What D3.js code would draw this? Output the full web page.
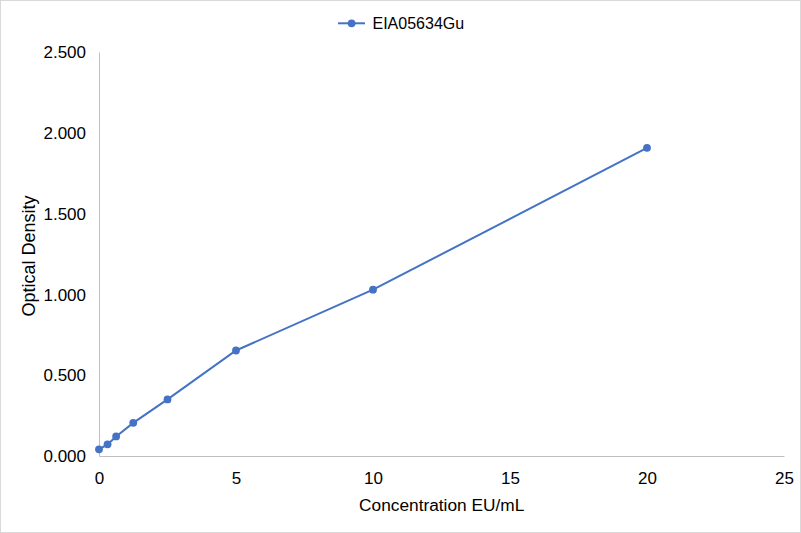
<!DOCTYPE html>
<html>
<head>
<meta charset="utf-8">
<script src="https://cdn.jsdelivr.net/npm/d3@7"></script>
<style>
  html, body { margin: 0; padding: 0; background: #fff; }
  svg { display: block; font-family: "Liberation Sans", Arial, sans-serif; }
</style>
</head>
<body>
<svg id="chart"></svg>
<script>
// Standard curve data
const seriesName = "EIA05634Gu";
const concentrations = [0, 0.3125, 0.625, 1.25, 2.5, 5, 10, 20];
const densities = [0.041, 0.072, 0.121, 0.205, 0.350, 0.653, 1.029, 1.907];
const xTicks = [0, 5, 10, 15, 20, 25];
const yTicks = [0, 0.5, 1.0, 1.5, 2.0, 2.5];

const size = { width: 801, height: 533 };
const margin = { top: 52, right: 17, bottom: 77, left: 99 };
const width = size.width - margin.left - margin.right;
const height = size.height - margin.top - margin.bottom;
const lineColor = "#4472C4";

const svg = d3.select("#chart")
  .attr("width", size.width)
  .attr("height", size.height);

// outer frame
svg.append("rect")
  .attr("x", 0.5).attr("y", 0.5)
  .attr("width", size.width - 1).attr("height", size.height - 1)
  .attr("fill", "white")
  .attr("stroke", "#d9d9d9");

const g = svg.append("g")
  .attr("transform", `translate(${ margin.left }, ${ margin.top })`);

const xScale = d3.scaleLinear().domain([0, 25]).range([0, width]);
const yScale = d3.scaleLinear().domain([0, 2.5]).range([height, 0]);

// Axes
const xAxis = d3.axisBottom(xScale).tickValues(xTicks).tickSize(0).tickFormat(d3.format("d"));
const yAxis = d3.axisLeft(yScale).tickValues(yTicks).tickSize(0).tickPadding(13).tickFormat(d3.format(".3f"));

const gx = g.append("g")
  .attr("transform", `translate(0, ${ height })`)
  .call(xAxis);
gx.select(".domain").attr("stroke", "#bfbfbf").attr("stroke-width", 1);
gx.selectAll("text")
  .attr("y", 28)
  .attr("dy", null)
  .attr("font-size", "17px")
  .attr("fill", "#000")
  .attr("font-family", "Liberation Sans, Arial, sans-serif");

const gy = g.append("g").call(yAxis);
gy.select(".domain").attr("stroke", "#bfbfbf").attr("stroke-width", 1);
gy.selectAll("text")
  .attr("dy", "0.34em")
  .attr("font-size", "17px")
  .attr("fill", "#000")
  .attr("font-family", "Liberation Sans, Arial, sans-serif");

// Line and points
const points = concentrations.map((c, i) => ({ x: c, y: densities[i] }));
const line = d3.line().x(d => xScale(d.x)).y(d => yScale(d.y));

g.append("path")
  .datum(points)
  .attr("d", line)
  .attr("fill", "none")
  .attr("stroke", lineColor)
  .attr("stroke-width", 2);

g.selectAll("circle.pt")
  .data(points)
  .enter()
  .append("circle")
  .attr("class", "pt")
  .attr("cx", d => xScale(d.x))
  .attr("cy", d => yScale(d.y))
  .attr("r", 3.9)
  .attr("fill", lineColor);

// Axis titles
svg.append("text")
  .attr("x", 441.7)
  .attr("y", 511)
  .attr("text-anchor", "middle")
  .attr("font-size", "17.3px")
  .text("Concentration EU/mL");

svg.append("text")
  .attr("transform", "translate(35, 256) rotate(-90)")
  .attr("text-anchor", "middle")
  .attr("font-size", "18px")
  .text("Optical Density");

// Legend
const legend = svg.append("g").attr("transform", "translate(338, 23.3)");
legend.append("line")
  .attr("x1", 0).attr("x2", 27).attr("y1", 0).attr("y2", 0)
  .attr("stroke", lineColor).attr("stroke-width", 2);
legend.append("circle")
  .attr("cx", 13.6).attr("cy", 0).attr("r", 3.9).attr("fill", lineColor);
legend.append("text")
  .attr("x", 34.5).attr("y", 5.5)
  .attr("font-size", "16px")
  .text(seriesName);
</script>
</body>
</html>
